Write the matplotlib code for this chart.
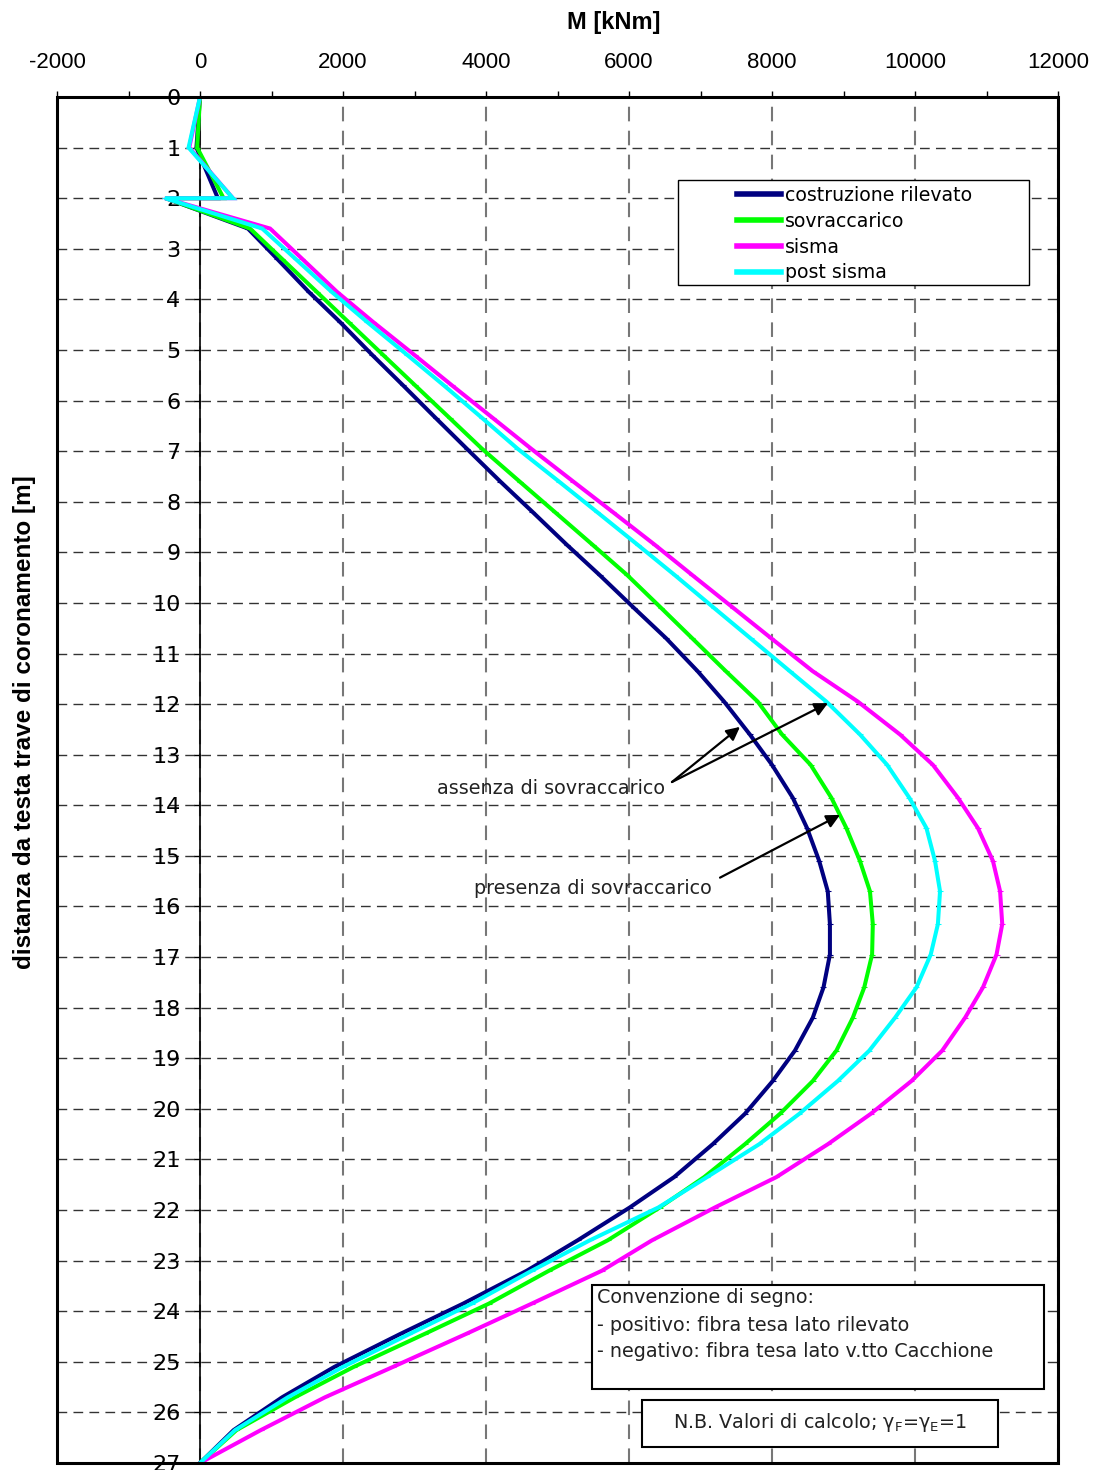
import matplotlib.pyplot as plt
from matplotlib.patches import Rectangle
from matplotlib.ticker import MultipleLocator

plt.rcParams['axes.unicode_minus'] = False

# profondità nodi [m]
depth = [0, 1, 2, 2, 2.6, 3.2, 3.85, 4.45, 5.1, 5.7, 6.35, 6.95, 7.6, 8.2, 8.85,
         9.45, 10.1, 10.7, 11.35, 11.95, 12.6, 13.2, 13.85, 14.45, 15.1, 15.7,
         16.35, 16.95, 17.6, 18.2, 18.85, 19.45, 20.1, 20.7, 21.35, 21.95, 22.6,
         23.2, 23.85, 24.45, 25.1, 25.7, 26.35, 27]

# momenti [kNm]
m_costruzione = [0, -50, 250, -480, 670, 1080, 1520, 1960, 2410, 2840, 3300, 3730,
                 4200, 4650, 5130, 5590, 6070, 6520, 6960, 7330, 7690, 8000, 8290,
                 8490, 8660, 8780, 8810, 8810, 8720, 8570, 8320, 8010, 7620, 7170,
                 6630, 6010, 5280, 4570, 3680, 2800, 1880, 1150, 470, 0]
m_sovraccarico = [0, -40, 330, -480, 700, 1147, 1631, 2078, 2562, 3009, 3495, 3942,
                  4470, 4960, 5490, 5975, 6450, 6885, 7355, 7800, 8140, 8540, 8830,
                  9040, 9230, 9370, 9410, 9400, 9290, 9130, 8900, 8570, 8110, 7620,
                  7050, 6430, 5700, 4880, 4040, 3140, 2150, 1330, 510, 0]
m_sisma = [0, -150, 460, -490, 980, 1430, 1915, 2424, 3000, 3524, 4100, 4630,
           5220, 5770, 6360, 6885, 7460, 7990, 8570, 9200, 9790, 10250, 10600,
           10880, 11090, 11190, 11220, 11140, 10950, 10700, 10380, 9950, 9380, 8780,
           8060, 7200, 6320, 5620, 4640, 3720, 2700, 1750, 850, 0]
m_post_sisma = [0, -160, 460, -490, 870, 1336, 1840, 2340, 2900, 3410, 3950, 4440,
                5020, 5550, 6120, 6640, 7190, 7700, 8250, 8760, 9230, 9610, 9920,
                10160, 10280, 10350, 10320, 10220, 10020, 9720, 9360, 8920, 8380, 7820,
                7090, 6410, 5450, 4640, 3800, 2930, 2000, 1230, 490, 0]

series = [("costruzione rilevato", m_costruzione, "#000080"),
          ("sovraccarico", m_sovraccarico, "#00FF00"),
          ("sisma", m_sisma, "#FF00FF"),
          ("post sisma", m_post_sisma, "#00FFFF")]

fig = plt.figure(figsize=(11.03, 14.70), dpi=100)
ax = fig.add_axes([57/1103, 1-1463/1470, 1001/1103, 1366/1470])

lines = []
for name, vals, col in series:
    ln, = ax.plot(vals, depth, color=col, lw=2.9, marker='_', ms=4, mew=0.8,
                  label=name, solid_joinstyle='miter', zorder=3)
    lines.append(ln)

ax.set_xlim(-2000, 12000)
ax.set_ylim(27, 0)

# assi
ax.xaxis.tick_top()
ax.xaxis.set_major_locator(MultipleLocator(2000))
ax.xaxis.set_minor_locator(MultipleLocator(1000))
ax.yaxis.set_major_locator(MultipleLocator(1))
ax.tick_params(axis='x', which='both', direction='out', length=4.5, width=1, pad=13,
               labelsize=16)
ax.tick_params(axis='y', direction='out', length=4, width=1, pad=10, labelsize=16)
for lab in ax.get_xticklabels() + ax.get_yticklabels():
    lab.set_fontfamily('Liberation Sans')

for s in ['top', 'right', 'bottom']:
    ax.spines[s].set_visible(False)
ax.spines['left'].set_position(('data', 0))
ax.spines['left'].set_linewidth(1.2)
ax.add_patch(Rectangle((0, 0), 1, 1, transform=ax.transAxes, fill=False,
                       lw=2.2, ec='black', zorder=6, clip_on=False))

ax.yaxis.grid(True, linestyle=(0, (7, 4.5)), color='#333333', lw=1)
ax.xaxis.grid(True, linestyle=(0, (7, 4.5)), color='#777777', lw=1.5)
ax.set_axisbelow(True)

fig.text(614/1103, 1-22/1470, "M [kNm]", ha='center', va='center',
         fontsize=17, fontweight='bold', family='Liberation Sans')
fig.text(25/1103, 1-722/1470, "distanza da testa trave di coronamento [m]",
         ha='center', va='center', rotation=90, fontsize=17.5, fontweight='bold',
         family='Liberation Sans')

# legenda
ax.add_patch(Rectangle(((678-57)/1001, 1-(285-97)/1366), 351/1001, 105/1366,
                       transform=ax.transAxes, fc='white', ec='black', lw=1, zorder=5))
leg = ax.legend(handles=lines, loc='upper left',
                bbox_to_anchor=((737-57)/1001, 1-(186-97)/1366),
                frameon=False, borderpad=0, borderaxespad=0, handlelength=2.35,
                handletextpad=0.2, labelspacing=0.36,
                prop={'family': 'DejaVu Sans', 'size': 13.6})
leg.set_zorder(7)
for h in leg.legend_handles:
    h.set_marker('')
    h.set_linewidth(4)

# annotazioni
arrow = dict(arrowstyle='-|>', color='black', lw=1.6, mutation_scale=20,
             shrinkA=0, shrinkB=0)
ax.annotate('', xy=(7552, 12.45), xytext=(6601, 13.54), arrowprops=arrow, zorder=4)
ax.annotate('', xy=(8783, 11.98), xytext=(6601, 13.54), arrowprops=arrow, zorder=4)
ax.annotate('', xy=(8951, 14.19), xytext=(7273, 15.43), arrowprops=arrow, zorder=4)
ax.text(4909, 13.66, "assenza di sovraccarico", ha='center', va='center',
        fontsize=13.8, color='#222222', family='DejaVu Sans', zorder=4)
ax.text(5497, 15.65, "presenza di sovraccarico", ha='center', va='center',
        fontsize=13.8, color='#222222', family='DejaVu Sans', zorder=4)

# riquadri note
ax.add_patch(Rectangle((0.5345, 0.0542), 0.9860-0.5345, 0.1303-0.0542,
                       transform=ax.transAxes, fc='white', ec='black', lw=1.5, zorder=5))
for yy, txt in [(0.1208, "Convenzione di segno:"),
                (0.1010, "- positivo: fibra tesa lato rilevato"),
                (0.0813, "- negativo: fibra tesa lato v.tto Cacchione")]:
    ax.text(0.5395, yy, txt, transform=ax.transAxes, ha='left', va='center',
            fontsize=13.8, color='#222222', family='DejaVu Sans', zorder=6)

ax.add_patch(Rectangle((0.5844, 0.0117), 0.9401-0.5844, 0.0461-0.0117,
                       transform=ax.transAxes, fc='white', ec='black', lw=1.5, zorder=5))
ax.text(0.7622, 0.0293, "N.B. Valori di calcolo; γ${}_{\\mathrm{F}}$=γ${}_{\\mathrm{E}}$=1",
        transform=ax.transAxes, ha='center', va='center', fontsize=13.8,
        color='#222222', family='DejaVu Sans', zorder=6)

fig.savefig("out.png", dpi=100)
